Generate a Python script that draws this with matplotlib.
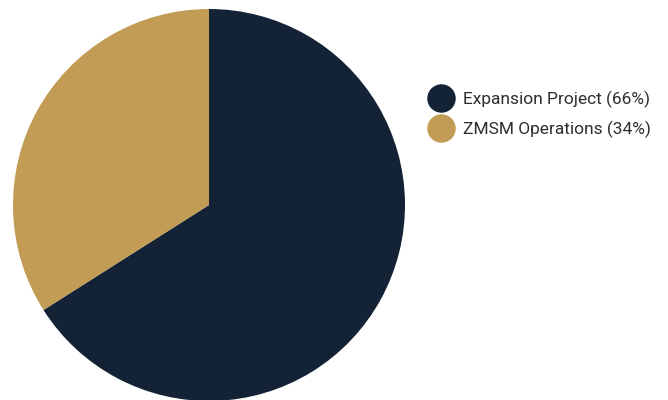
import matplotlib.pyplot as plt
from matplotlib.lines import Line2D

labels = ["Expansion Project", "ZMSM Operations"]
shares = [66, 34]
colors = ["#132335", "#C29C55"]

plt.rcParams['font.family'] = ['Roboto', 'DejaVu Sans']

fig = plt.figure(figsize=(6.68, 4.0), dpi=100)
# pie centre ~ (209, 205) px, radius ~196 px
cx, cy, r = 209, 205, 196
ax = fig.add_axes([(cx - r) / 668, (400 - cy - r) / 400, 2 * r / 668, 2 * r / 400])
ax.pie(shares, colors=colors, startangle=90, counterclock=False, radius=1,
       wedgeprops=dict(linewidth=0))
ax.set_xlim(-1, 1)
ax.set_ylim(-1, 1)
ax.set_aspect('equal')
ax.axis('off')

handles = [Line2D([], [], marker='o', linestyle='none', markersize=20.5,
                  markerfacecolor=c, markeredgewidth=0) for c in colors]
texts = [f"{l} ({s}%)" for l, s in zip(labels, shares)]
fig.legend(handles, texts, loc='upper left', bbox_to_anchor=(427 / 668, 1 - 91 / 400),
           frameon=False, fontsize=12.5, labelcolor='#2e2e2e', handlelength=1.6,
           handletextpad=0.47, labelspacing=0.74, borderpad=0, borderaxespad=0)

fig.savefig("out.png", dpi=100)
